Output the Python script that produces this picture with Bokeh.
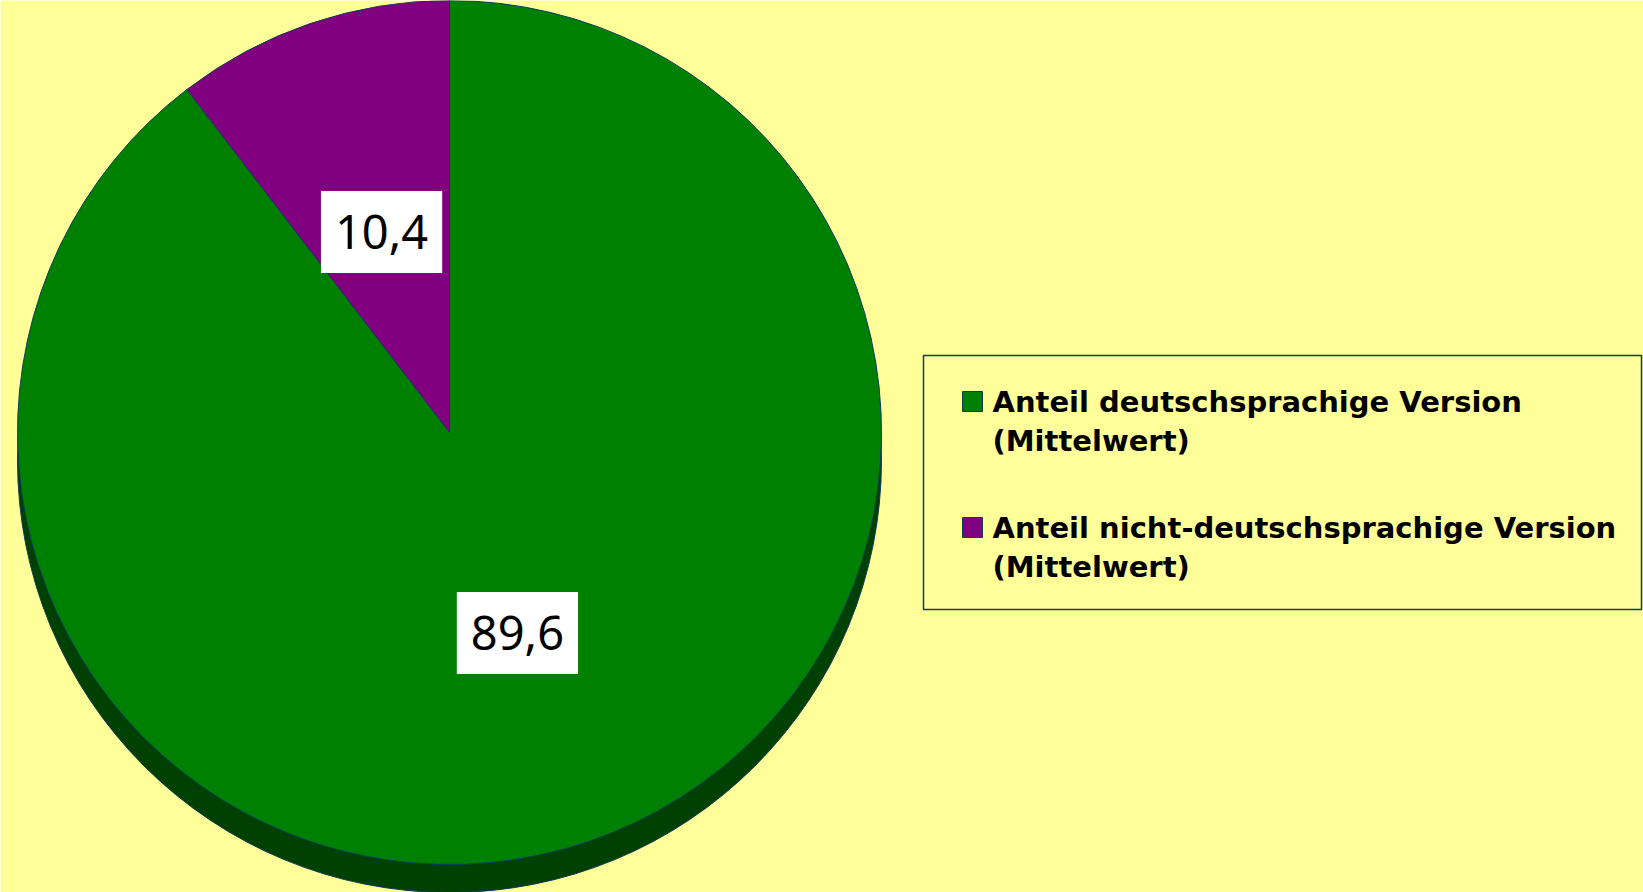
import math
from bokeh.plotting import figure
from bokeh.models import Range1d, BoxAnnotation
from bokeh.core.properties import value
from bokeh.embed import file_html
from bokeh.resources import INLINE

# ---- data ----
categories = ["Anteil deutschsprachige Version\n(Mittelwert)",
              "Anteil nicht-deutschsprachige Version\n(Mittelwert)"]
values = [89.6, 10.4]
colors = ["#008000", "#800080"]

W, H = 1643, 892
BG = "#FFFF99"
EDGE = "#103c5a"

p = figure(width=W, height=H, x_range=Range1d(0, W), y_range=Range1d(0, H),
           output_backend="svg", toolbar_location=None, min_border=0,
           background_fill_color=BG, border_fill_color=BG)
p.xaxis.visible = False
p.yaxis.visible = False
p.grid.visible = False
p.outline_line_color = None

cx, cy, r = 449, 460, 432
depth = 28

# 3D side (shadow)
p.circle(x=[cx], y=[cy - depth], radius=r, fill_color="#004000",
         line_color=EDGE, line_width=1)

# slices, clockwise from 12 o'clock
total = sum(values)
start = 90.0
starts, ends, mids = [], [], []
for v in values:
    end = start - 360.0 * v / total
    starts.append(math.radians(end))
    ends.append(math.radians(start))
    mids.append(math.radians((start + end) / 2))
    start = end

p.wedge(x=[cx] * len(values), y=[cy] * len(values), radius=r,
        start_angle=starts, end_angle=ends, direction="anticlock",
        fill_color=colors, line_color=EDGE, line_width=1)

# value labels
lx = [cx + 0.49 * r * math.cos(m) for m in mids]
ly = [cy + 0.49 * r * math.sin(m) for m in mids]
labels = [f"{v:.1f}".replace(".", ",") for v in values]
p.text(x=lx, y=ly, text=labels, text_align="center", text_baseline="middle",
       text_font=value("Noto Sans"), text_font_size="47px", text_color="black",
       background_fill_color="white", padding=(14, 14, 24, 24))

# legend
box = BoxAnnotation(left=923, right=1641, top=537, bottom=283,
                    fill_color=None, line_color=EDGE, line_alpha=1.0,
                    line_width=1.5)
p.add_layout(box)

item_base = [491, 365]
line_gap = 39
p.scatter(x=[972, 972], y=[491, 365], marker="square",
          size=20, fill_color=colors, line_color=EDGE, line_width=1)
tx, ty, tt = [], [], []
for base, cat in zip(item_base, categories):
    for i, line in enumerate(cat.split("\n")):
        tx.append(992)
        ty.append(base - i * line_gap)
        tt.append(line)
p.text(x=tx, y=ty, text=tt, text_align="left", text_baseline="alphabetic",
       text_font=value("DejaVu Sans"), text_font_style="bold",
       text_font_size="29px", text_color="black")

open("out.html", "w").write(file_html(p, INLINE))
